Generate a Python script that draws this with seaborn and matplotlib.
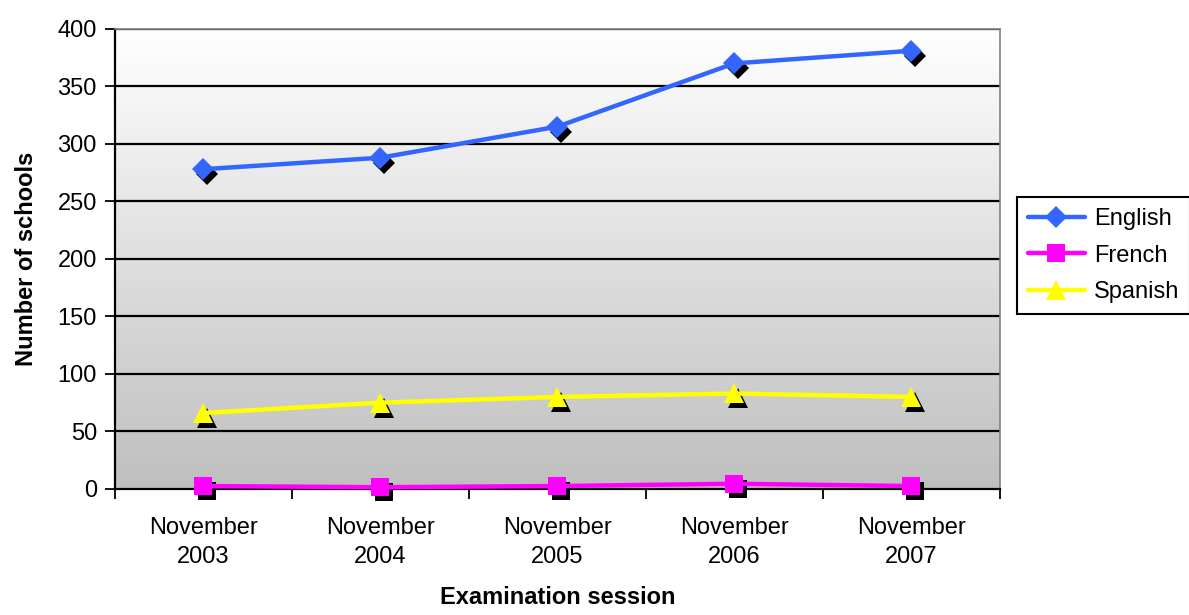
import numpy as np
import pandas as pd
import matplotlib
matplotlib.use("Agg")
import matplotlib.pyplot as plt
import matplotlib.transforms as mtransforms
import seaborn as sns

# data
sessions = ["November\n2003", "November\n2004", "November\n2005", "November\n2006", "November\n2007"]
english = [278, 288, 315, 370, 381]
french = [2.5, 1.5, 2.5, 4.5, 2.5]
spanish = [66, 75, 80, 83, 80]

languages = ["English", "French", "Spanish"]
colors = {"English": "#3366FF", "French": "#FF00FF", "Spanish": "#FFFF00"}
markers = {"English": "D", "French": "s", "Spanish": "^"}
msizes = {"English": 11, "French": 13, "Spanish": 14}

df = pd.DataFrame({
    "session": np.tile(np.arange(len(sessions)), 3),
    "language": np.repeat(languages, len(sessions)),
    "schools": english + french + spanish,
})

sns.set_style("white")
plt.rcParams["font.family"] = ["Liberation Sans", "DejaVu Sans"]
plt.rcParams["text.color"] = "black"
plt.rcParams["xtick.color"] = "black"
plt.rcParams["ytick.color"] = "black"
plt.rcParams["axes.labelcolor"] = "black"

fig = plt.figure(figsize=(11.89, 6.15), dpi=100)
ax = fig.add_axes([0.0967, 0.205, 0.744, 0.748])

# gradient background, white at top to grey at bottom
grad = np.linspace(0, 1, 256).reshape(-1, 1)
ax.imshow(grad, extent=[0, 1, 0, 1], transform=ax.transAxes, aspect="auto",
          cmap=matplotlib.colors.LinearSegmentedColormap.from_list("g", ["#ffffff", "#bfbfbf"]),
          origin="upper", zorder=0)

ax.set_xlim(-0.5, 4.5)
ax.set_ylim(0, 400)
ax.set_yticks(range(0, 401, 50))
for y in range(50, 401, 50):
    ax.axhline(y, color="black", lw=1.6, zorder=1)

# drop shadows for the markers
shadow = mtransforms.offset_copy(ax.transData, fig=fig, x=4, y=-5, units="dots")
for lang in languages:
    sub = df[df["language"] == lang]
    ax.plot(sub["session"], sub["schools"], ls="none", marker=markers[lang],
            ms=msizes[lang], color="black", mew=0, transform=shadow, zorder=2,
            clip_on=False)

for lang in languages:
    sub = df[df["language"] == lang]
    sns.lineplot(data=sub, x="session", y="schools", ax=ax, color=colors[lang],
                 marker=markers[lang], markersize=msizes[lang], markeredgewidth=0,
                 lw=3.2, label=lang, zorder=3, clip_on=False)

ax.set_xticks(range(len(sessions)))
ax.set_xticklabels(sessions, fontsize=17, linespacing=1.45)
ax.set_xticks(np.arange(-0.5, 4.6, 1), minor=True)
ax.tick_params(axis="x", which="major", length=0, pad=20)
ax.tick_params(axis="x", which="minor", length=7, width=1.3, color="black", direction="out")
ax.tick_params(axis="y", length=7, width=1.3, color="black", direction="out", labelsize=17, pad=6)
ax.yaxis.set_ticks_position("left")
ax.xaxis.set_ticks_position("bottom")

for s in ["left", "bottom"]:
    ax.spines[s].set_color("black")
    ax.spines[s].set_linewidth(1.6)
for s in ["top", "right"]:
    ax.spines[s].set_color("#808080")
    ax.spines[s].set_linewidth(1.2)

ax.set_xlabel("Examination session", fontsize=17, fontweight="bold", labelpad=13)
ax.set_ylabel("Number of schools", fontsize=17, fontweight="bold", labelpad=14)

leg = ax.legend(loc="center left", bbox_to_anchor=(1.02, 0.507), fontsize=17,
                frameon=True, fancybox=False, edgecolor="black", framealpha=1,
                handlelength=2.4, borderpad=0.45, labelspacing=0.62, handletextpad=0.4,
                borderaxespad=0)
leg.get_frame().set_linewidth(1.5)

fig.savefig("out.png", dpi=100)
